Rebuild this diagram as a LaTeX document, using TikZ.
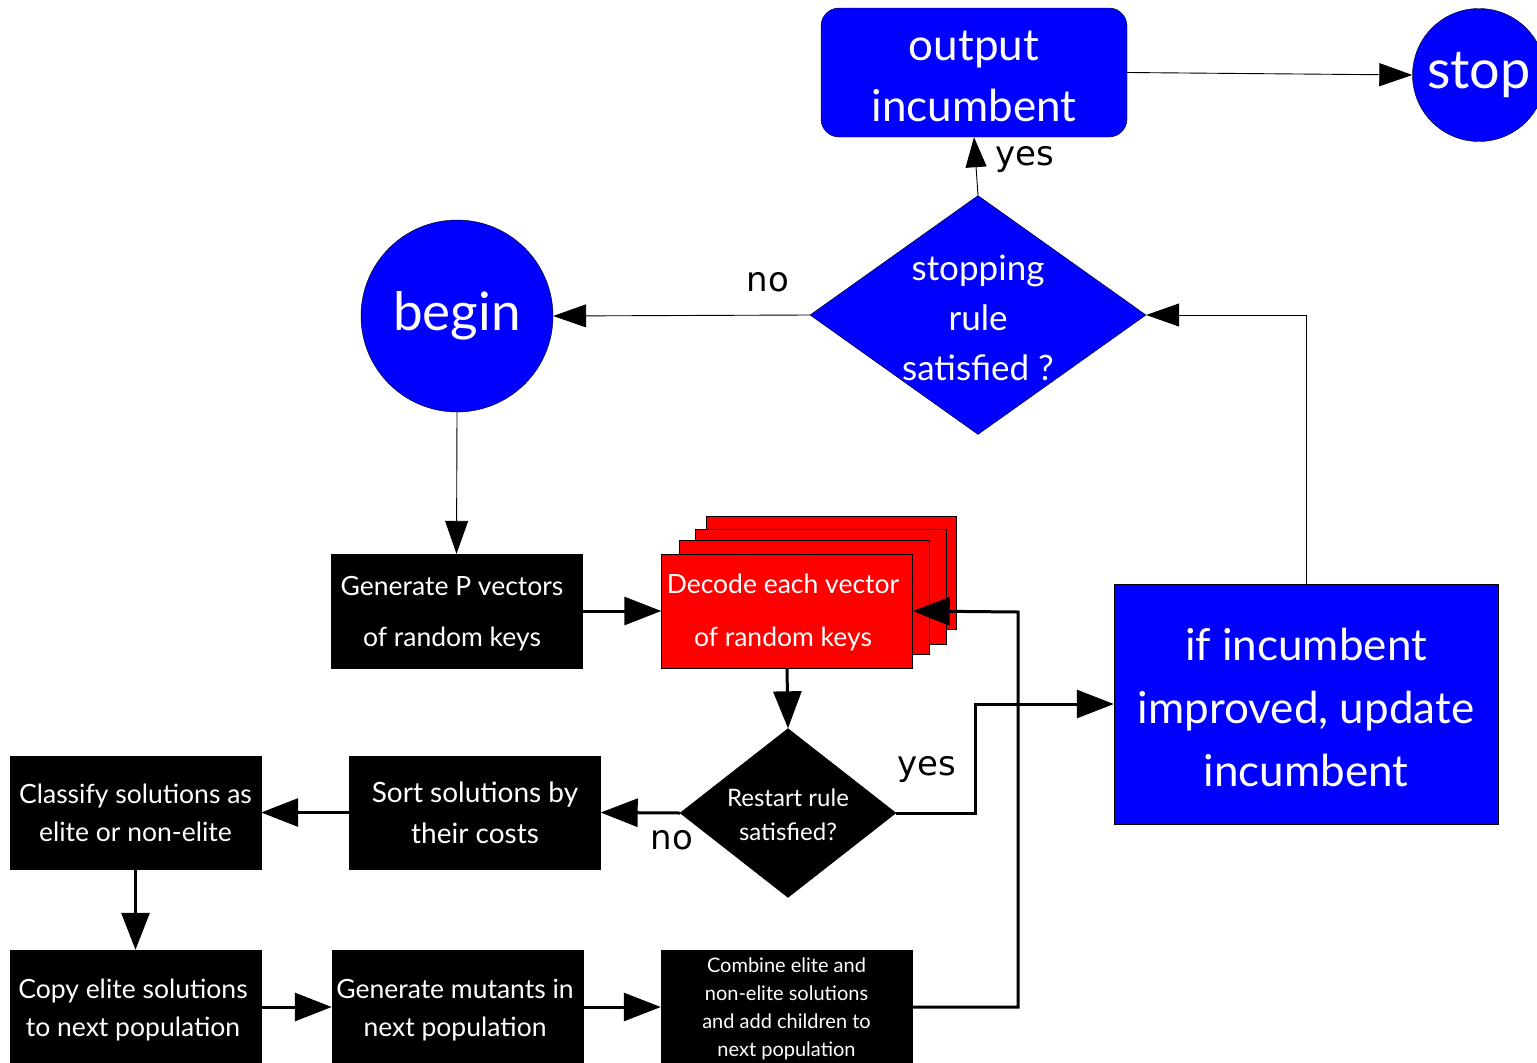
\documentclass[tikz,border=0pt]{standalone}
\usepackage{fontspec}
\setmainfont{Lato}
\newfontfamily\labelfont{DejaVu Sans}
\usetikzlibrary{arrows.meta,shapes.geometric}
\definecolor{flowblue}{RGB}{0,0,255}
\definecolor{flowred}{RGB}{255,0,0}
\begin{document}
\begin{tikzpicture}[x=1pt,y=-1pt,
  box/.style={draw=black, fill=black, text=white, align=center, inner sep=0pt,
    minimum width=251pt, minimum height=113pt},
  bluebox/.style={draw=black, fill=flowblue, text=white, align=center, inner sep=0pt},
  redbox/.style={draw=black, fill=flowred},
  inner/.style={text=white, align=center, inner sep=0pt},
  thin/.style={line width=0.9pt, -{Triangle[length=33pt,width=23pt]}},
  thick/.style={line width=3pt, -{Triangle[length=37pt,width=28pt]}},
  answer/.style={font=\labelfont\fontsize{34}{34}\selectfont, inner sep=0pt}]
\useasboundingbox (0,0) rectangle (1537,1063);

% --- top row: stop test, output and end
\node[bluebox, rounded corners=18pt, minimum width=306pt, minimum height=129pt] (out) at (974,72.5) {};
\node[inner, font=\fontsize{44}{61}\selectfont] (outt) at (974,76) {output\\incumbent};
\node[bluebox, circle, minimum size=133pt, font=\fontsize{54}{54}\selectfont] (stop) at (1479,75) {stop};
\node[bluebox, diamond, minimum width=336pt, minimum height=239pt] (stopd) at (978,315) {};
\node[inner, font=\fontsize{35}{50}\selectfont] (stopt) at (978,318) {stopping\\rule\\satisfied ?};
\node[bluebox, circle, minimum size=192pt, font=\fontsize{53}{53}\selectfont] (begin) at (457,316) {begin};

% --- generation and decoding
\node[box, minimum height=114pt] (gen) at (456.5,611) {};
\node[inner, font=\fontsize{26.5}{51}\selectfont] (gent) at (452,614) {Generate P vectors\\of random keys};
\draw[redbox] (706,516) rectangle (956,629);
\draw[redbox] (695,529) rectangle (946,644);
\draw[redbox] (679,540) rectangle (929,654);
\node[redbox, minimum width=251pt, minimum height=114pt] (dec) at (787,611) {};
\node[inner, font=\fontsize{26.5}{53}\selectfont] (dect) at (783,613) {Decode each vector\\of random keys};

% --- restart test
\node[draw=black, fill=black, diamond, minimum width=216pt, minimum height=169pt, inner sep=0pt] (rst) at (788,813) {};
\node[inner, font=\fontsize{24}{34}\selectfont] (rstt) at (788,815) {Restart rule\\satisfied?};
\node[bluebox, minimum width=384pt, minimum height=240pt] (if) at (1306,704) {};
\node[inner, font=\fontsize{44}{63}\selectfont] (ift) at (1306,707) {if incumbent\\improved, update\\incumbent};

% --- population handling
\node[box, font=\fontsize{28}{41}\selectfont] (sort) at (475,812.5) {Sort solutions by\\their costs};
\node[box, font=\fontsize{26.5}{38}\selectfont] (cls) at (135.5,812.5) {Classify solutions as\\elite or non-elite};
\node[box, minimum height=114pt] (copy) at (135.5,1007) {};
\node[inner, font=\fontsize{26.5}{38}\selectfont] (copyt) at (133,1010) {Copy elite solutions\\to next population};
\node[box, minimum height=114pt] (mut) at (457.5,1007) {};
\node[inner, font=\fontsize{26.5}{38}\selectfont] (mutt) at (455,1010) {Generate mutants in\\next population};
\node[box, minimum height=114pt] (comb) at (786.5,1007) {};
\node[inner, font=\fontsize{20}{28}\selectfont] (combt) at (786.5,1009)
  {Combine elite and\\non-elite solutions\\and add children to\\next population};

% --- connectors
\draw[thin] (out.east) -- (stop.west);
\draw[thin, -{Triangle[length=30pt,width=21pt]}] (stopd.north) -- (out.south);
\node[answer] (lyes1) at (1025,160) {yes};
\draw[thin] (stopd.west) -- (begin.east);
\node[answer] (lno1) at (768,282) {no};
\draw[thin] (begin.south) -- (gen.north);
\draw[thick] (gen.east) -- (dec.west);
\draw[thick] (dec.south) -- (rst.north);
\draw[thick] (rst.west) -- (sort.east);
\node[answer] (lno2) at (672,840) {no};
\coordinate (ybend) at (975,704);
\draw[thick] (rst.east) -| (ybend) -- (if.west);
\node[answer] (lyes2) at (927,770) {yes};
\draw[thin] (if.north) |- (stopd.east);
\draw[thick] (sort.west) -- (cls.east);
\draw[thick] (cls.south) -- (copy.north);
\draw[thick] (copy.east) -- (mut.west);
\draw[thick] (mut.east) -- (comb.west);
\coordinate (cbend) at (1018,612);
\draw[thick] (comb.east) -| (cbend) -- (dec.east);
\end{tikzpicture}
\end{document}
